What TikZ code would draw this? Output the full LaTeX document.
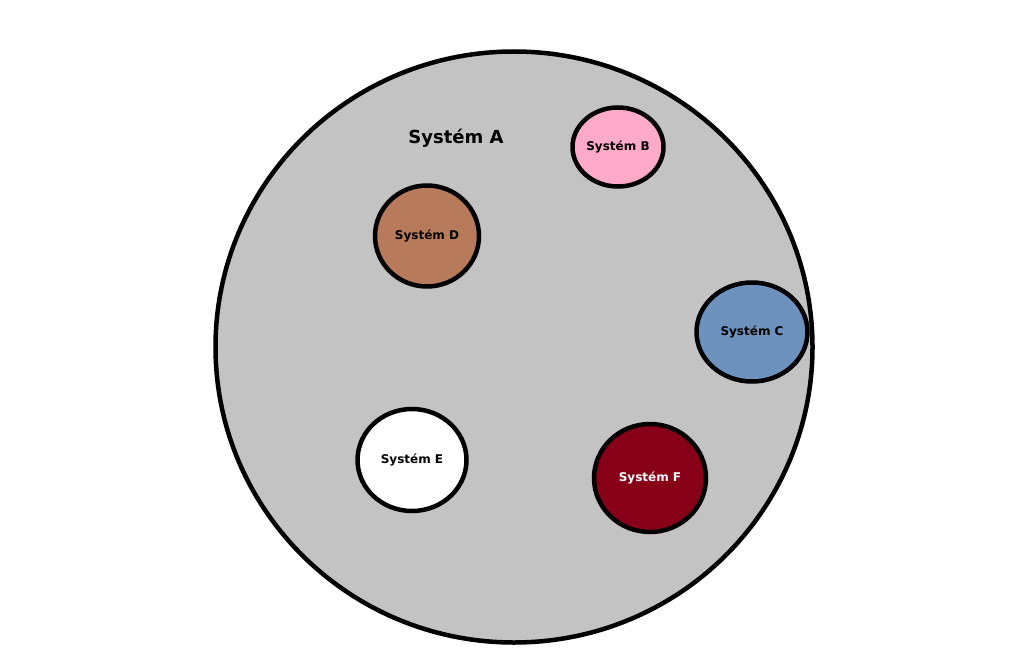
\documentclass[tikz,border=0pt]{standalone}
\usepackage{fontspec}
\setmainfont{DejaVu Sans}
\usepackage{tikz}
\usetikzlibrary{shapes.geometric}

\definecolor{outergray}{HTML}{C3C3C3}
\definecolor{pinkB}{HTML}{FFAAC8}
\definecolor{blueC}{HTML}{6E92BE}
\definecolor{brownD}{HTML}{B77A5A}
\definecolor{redF}{HTML}{880018}

\begin{document}
\begin{tikzpicture}[
  x=1pt, y=-1pt,
  sys/.style={ellipse, draw=black, line width=4.5pt, inner sep=0pt,
    font=\bfseries\fontsize{12}{14}\selectfont},
  title/.style={font=\bfseries\fontsize{18}{21}\selectfont}
]
\useasboundingbox (0,0) rectangle (1035,669);

% Outer system
\node[sys, fill=outergray, minimum width=597pt, minimum height=591pt] (sysA) at (514,347) {};
\node[title] (labA) at (456,138) {Systém A};

% Inner systems
\node[sys, fill=pinkB, minimum width=91pt, minimum height=79pt] (sysB) at (618,147) {Systém B};
\node[sys, fill=blueC, minimum width=111pt, minimum height=99pt] (sysC) at (752,332) {Systém C};
\node[sys, fill=brownD, minimum width=104pt, minimum height=101pt] (sysD) at (427,236) {Systém D};
\node[sys, fill=white, minimum width=109pt, minimum height=102pt] (sysE) at (412,460) {Systém E};
\node[sys, fill=redF, text=white, minimum width=112pt, minimum height=108pt] (sysF) at (650,478) {Systém F};

\end{tikzpicture}
\end{document}
